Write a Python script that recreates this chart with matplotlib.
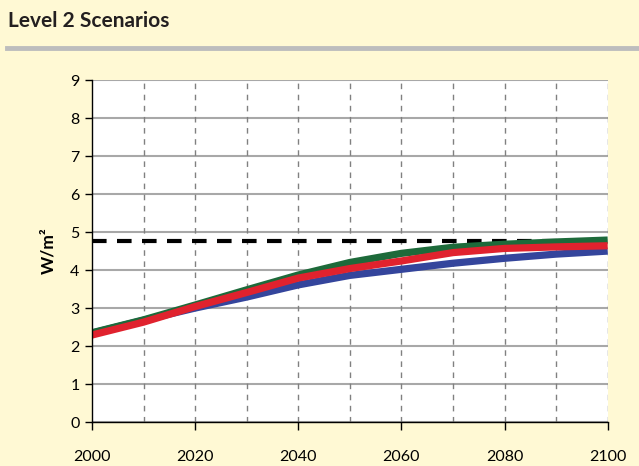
import matplotlib
matplotlib.use("Agg")
import matplotlib.pyplot as plt
import numpy as np

years = [2000, 2010, 2020, 2030, 2040, 2050, 2060, 2070, 2080, 2090, 2100]
blue = [2.34, 2.68, 3.00, 3.29, 3.61, 3.86, 4.02, 4.18, 4.31, 4.42, 4.50]
green = [2.35, 2.69, 3.08, 3.48, 3.87, 4.20, 4.44, 4.60, 4.68, 4.74, 4.79]
red = [2.29, 2.63, 3.04, 3.41, 3.79, 4.04, 4.24, 4.46, 4.57, 4.61, 4.64]
target = 4.76
title = "Level 2 Scenarios"
ylabel = "W/m²"

bg = "#FFF9D4"
fig = plt.figure(figsize=(6.39, 4.66), dpi=100, facecolor=bg)
plt.rcParams['font.family'] = ['Lato', 'DejaVu Sans']

fig.text(0.012, 0.955, title, fontsize=15, fontweight='bold', color='#231F20', va='center', ha='left')
fig.add_artist(plt.Line2D([0.011, 1.0], [0.897, 0.897], color='#BDBDBD', lw=3.5, transform=fig.transFigure))

ax = fig.add_axes([0.144, 0.0944, 0.807, 0.7336])
ax.set_facecolor('white')
ax.set_xlim(2000, 2100)
ax.set_ylim(0, 9)

for v in range(0, 10):
    ax.axhline(v, color='#A8A8A8', lw=1.5, zorder=1)
for x in range(2010, 2101, 10):
    ax.axvline(x, color='#808080', lw=1.0, ls=(0, (4, 4)), zorder=1)

ax.plot([2000, 2100], [target, target], color='black', lw=3, ls=(0, (3.5, 2.5)), zorder=3)
ax.plot(years, blue, color='#34459C', lw=5.2, zorder=4, solid_capstyle='butt')
ax.plot(years, green, color='#1D6A3A', lw=5.2, zorder=5, solid_capstyle='butt')
ax.plot(years, red, color='#E0222E', lw=5.2, zorder=6, solid_capstyle='butt')

ax.set_xticks(range(2000, 2101, 20))
ax.set_yticks(range(0, 10))
ax.tick_params(axis='x', direction='out', length=6, width=1, pad=14, labelsize=11.5, colors='black')
ax.tick_params(axis='y', direction='out', length=5, width=1, pad=4, labelsize=11.5, colors='black')
for s in ['top', 'right']:
    ax.spines[s].set_visible(False)
for s in ['left', 'bottom']:
    ax.spines[s].set_color('black')
    ax.spines[s].set_linewidth(1)
    ax.spines[s].set_zorder(7)
ax.set_ylabel(ylabel, fontsize=12.5, fontweight='bold', labelpad=10)

fig.savefig('out.png', dpi=100, facecolor=bg)
